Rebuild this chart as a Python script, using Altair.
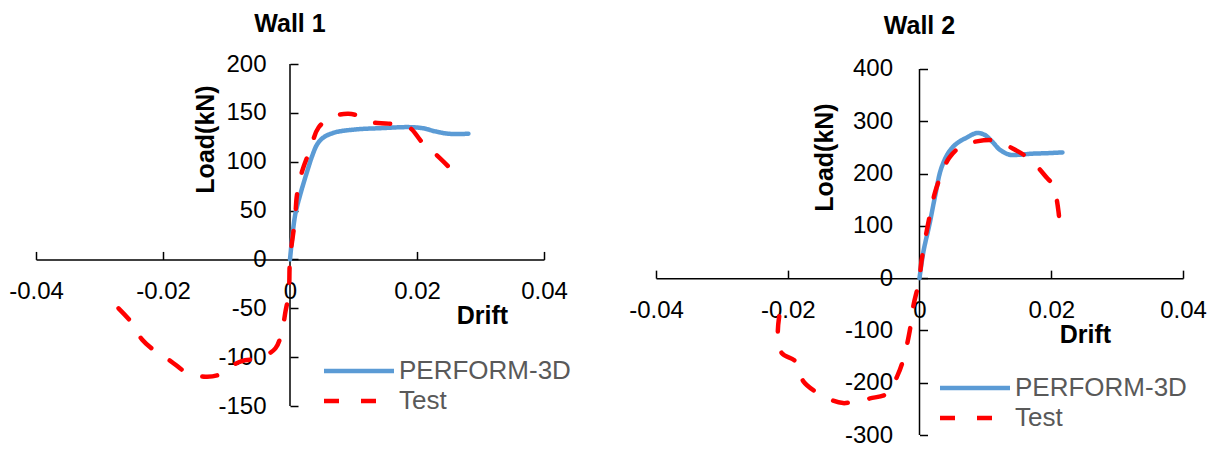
import altair as alt
import pandas as pd

# ---------------- data ----------------
series_names = ["PERFORM-3D", "Test"]
series_colors = ["#5B9BD5", "#FF0000"]
x_ticks = [-0.04, -0.02, 0, 0.02, 0.04]

# Wall 1
w1_perf_drift = [0, 0.0008, 0.0016, 0.0027, 0.0035, 0.0043, 0.0053, 0.0071, 0.0103,
                 0.0145, 0.0187, 0.0208, 0.0229, 0.025, 0.0281]
w1_perf_load = [0, 45, 66, 90, 106, 118, 125, 130, 133, 134.4, 135.4, 134.4, 131, 128.6, 128.6]
w1_test_drift = [-0.027, -0.0249, -0.0233, -0.0215, -0.0188, -0.0162, -0.0133, -0.0112,
                 -0.0097, -0.0076, -0.0049, -0.0023, -0.0013, -0.0007, -0.0002, 0,
                 0.0008, 0.0011, 0.0019, 0.0032, 0.0045, 0.0066, 0.0092, 0.0113, 0.0129,
                 0.0155, 0.0187, 0.0208, 0.0229, 0.025, 0.0263]
w1_test_load = [-50, -65, -82, -92.5, -104, -116, -120, -118, -111, -104, -101, -91, -74,
                -53, -35, 0, 42, 66, 90, 113, 135, 146, 149, 146, 140.5, 139, 135.4, 120,
                108, 94.6, 84.4]
w1_y_ticks = [-150, -100, -50, 0, 50, 100, 150, 200]

# Wall 2
w2_perf_drift = [0, 0.0006, 0.0015, 0.0024, 0.0033, 0.0045, 0.0057, 0.0072, 0.0087, 0.0099,
                 0.011, 0.0122, 0.0137, 0.0152, 0.017, 0.0194, 0.0217]
w2_perf_load = [0, 51, 102, 159, 210, 242, 258, 269, 277.5, 274, 261.6, 245.6, 236, 236,
                238, 239, 240.5]
w2_test_drift = [-0.0213, -0.0215, -0.0209, -0.0188, -0.0176, -0.0158, -0.0134, -0.0116,
                 -0.0099, -0.0075, -0.0048, -0.0033, -0.0024, -0.0015, -0.0009, -0.0003, 0,
                 0.0003, 0.0009, 0.0018, 0.0024, 0.0033, 0.0045, 0.0063, 0.0087, 0.0116,
                 0.014, 0.0158, 0.0176, 0.0194, 0.0203, 0.0207, 0.0211, 0.0212]
w2_test_load = [-73, -108, -143.5, -159.5, -198, -217, -233, -239, -236, -230, -220, -185,
                -153, -102, -51, -19, 0, 32, 77, 134, 166, 198, 230, 252, 261.6, 263, 249,
                236, 217, 191, 178.6, 159.5, 127.6, 115]
w2_y_ticks = [-300, -200, -100, 0, 100, 200, 300, 400]

FONT = "Liberation Sans"


def make_df(perf_d, perf_l, test_d, test_l):
    rows = []
    for i, (d, l) in enumerate(zip(perf_d, perf_l)):
        rows.append({"drift": d, "load": l, "series": "PERFORM-3D", "idx": i})
    for i, (d, l) in enumerate(zip(test_d, test_l)):
        rows.append({"drift": d, "load": l, "series": "Test", "idx": i})
    return pd.DataFrame(rows)


def panel(df, title, yticks, ytop, width, height, title_offset,
          ytitle_x, ytitle_y, xtitle_x, xtitle_y, legend_x, legend_y, ylabel_pad):
    ydom = [yticks[0], ytop]
    zero_x = width / 2.0
    zero_from_top = height * ydom[1] / (ydom[1] - ydom[0])
    zero_from_bottom = height - zero_from_top
    xs = alt.Scale(domain=[-0.04, 0.04], nice=False, zero=False)
    ys = alt.Scale(domain=ydom, nice=False, zero=False)

    legend = alt.Legend(
        orient="none", legendX=legend_x, legendY=legend_y, title=None,
        symbolType="M-5,0L5,0", symbolSize=196, symbolStrokeWidth=4.5,
        symbolOffset=22, labelOffset=27, labelFontSize=26, labelFont=FONT,
        labelColor="#595959", labelLimit=0, padding=0, rowPadding=4,
    )

    # vertical axis line at drift = 0, from the lowest to the highest tick
    vline_df = pd.DataFrame({"x": [0.0], "y": [yticks[0]], "y2": [yticks[-1]]})
    vline = alt.Chart(vline_df).mark_rule(color="black", strokeWidth=1.5).encode(
        x=alt.X("x:Q", scale=xs, axis=None),
        y=alt.Y("y:Q", scale=ys, axis=None),
        y2="y2:Q",
    )

    frame = alt.Chart(df).mark_point(opacity=0, size=1).encode(
        x=alt.X("drift:Q", scale=xs, axis=alt.Axis(
            orient="top", offset=-zero_from_top, values=x_ticks, labels=False,
            domain=True, domainColor="black", domainWidth=1.5,
            ticks=True, tickColor="black", tickWidth=1.5, tickSize=8,
            grid=False, title=None)),
        y=alt.Y("load:Q", scale=ys, axis=alt.Axis(
            orient="right", offset=-(width - zero_x), values=yticks, labels=False,
            domain=False,
            ticks=True, tickColor="black", tickWidth=1.5, tickSize=8,
            grid=False, title=None)),
    )

    lines = alt.Chart(df).mark_line(
        strokeWidth=4.5, strokeCap="round", interpolate="catmull-rom"
    ).encode(
        x=alt.X("drift:Q", scale=xs, axis=alt.Axis(
            orient="bottom", offset=-zero_from_bottom, values=x_ticks,
            domain=False, ticks=False, tickSize=0, grid=False,
            labelPadding=20, labelFontSize=24, labelFont=FONT, labelColor="black",
            labelFlush=False, labelOverlap=False,
            labelExpr="replace(format(datum.value, '.2~f'), '\u2212', '-')",
            title="Drift", titleFont=FONT, titleFontSize=25, titleFontWeight="bold",
            titleColor="black", titleX=xtitle_x, titleY=xtitle_y,
            titleAlign="center", titleBaseline="alphabetic")),
        y=alt.Y("load:Q", scale=ys, axis=alt.Axis(
            orient="left", offset=-zero_x, values=yticks,
            domain=False, ticks=False, tickSize=0, grid=False,
            labelPadding=ylabel_pad, labelFontSize=24, labelFont=FONT, labelColor="black",
            labelFlush=False, labelOverlap=False,
            labelExpr="replace(format(datum.value, 'd'), '\u2212', '-')",
            title="Load(kN)", titleFont=FONT, titleFontSize=25, titleFontWeight="bold",
            titleColor="black", titleAngle=270, titleX=ytitle_x, titleY=ytitle_y,
            titleAlign="center", titleBaseline="alphabetic")),
        color=alt.Color("series:N", scale=alt.Scale(domain=series_names, range=series_colors),
                        legend=legend),
        strokeDash=alt.StrokeDash("series:N", scale=alt.Scale(domain=series_names,
                                                               range=[[1, 0], [15, 22]]),
                                  legend=legend),
        order=alt.Order("idx:Q"),
    )

    return alt.layer(frame, vline, lines).resolve_axis(x="independent", y="independent").properties(
        width=width, height=height,
        title=alt.TitleParams(text=title, font=FONT, fontSize=25, fontWeight="bold",
                              color="black", anchor="middle", frame="group",
                              offset=title_offset, baseline="alphabetic"),
    )


df1 = make_df(w1_perf_drift, w1_perf_load, w1_test_drift, w1_test_load)
df2 = make_df(w2_perf_drift, w2_perf_load, w2_test_drift, w2_test_load)

p1 = panel(df1, "Wall 1", w1_y_ticks, 200, 508, 342, -4.5,
           -77, 75, 446, 64, 288, 294, 24)
p2 = panel(df2, "Wall 2", w2_y_ticks, 409.56, 527, 371, -2,
           -87, 93, 429, 64, 284, 311, 27)

chart = alt.hconcat(p1, p2, spacing=57).resolve_scale(
    x="independent", y="independent", color="independent", strokeDash="independent"
).resolve_legend(color="independent", strokeDash="independent").properties(
    padding={"left": 0, "top": 3, "right": 0, "bottom": 0},
    background="white",
).configure_view(stroke=None)

chart.save("out.html", embed_options={"renderer": "svg", "actions": False})
